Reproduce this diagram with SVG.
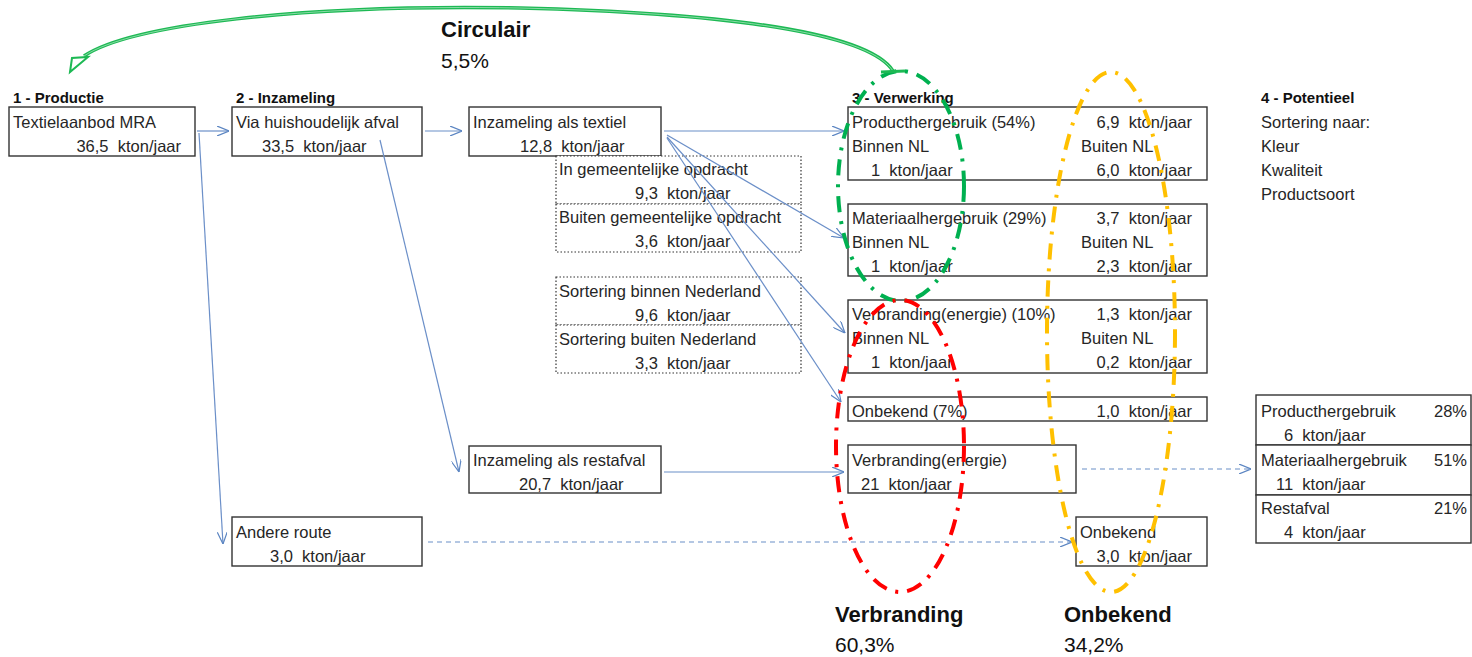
<svg xmlns="http://www.w3.org/2000/svg" width="1472" height="657" viewBox="0 0 1472 657">
<defs>
<marker id="arr" viewBox="0 0 12 10" refX="12" refY="5" markerWidth="12" markerHeight="10" markerUnits="userSpaceOnUse" orient="auto">
<path d="M0,0 L12,5 L0,10" fill="none" stroke="#5b85c2" stroke-width="1.2"/>
</marker>
<style>
text{font-family:"Liberation Sans",Arial,sans-serif;font-size:16.5px;fill:#262626;white-space:pre}
.h{font-size:15px;font-weight:bold;fill:#111}
.big{font-size:22px;font-weight:bold;fill:#111}
.pct{font-size:21px;fill:#111}
.e{text-anchor:end}
.box{fill:#fff;stroke:#333;stroke-width:1.4}
.dot{fill:#fff;stroke:#333;stroke-width:1.2;stroke-dasharray:1.5 2}
.c{fill:none;stroke:#6b8fc8;stroke-width:1.2;marker-end:url(#arr)}
.d{fill:none;stroke:#6b8fc8;stroke-width:1.2;stroke-dasharray:5 4;marker-end:url(#arr)}
.ell{fill:none;stroke-width:4;stroke-dasharray:16 9 3 9}
</style>
</defs>

<g id="headers">
<text class="h" x="13" y="103">1 - Productie</text>
<text class="h" x="236" y="103">2 - Inzameling</text>
<text class="h" x="852" y="103">3 - Verwerking</text>
<text class="h" x="1261" y="103">4 - Potentieel</text>
<text x="1261" y="128">Sortering naar:</text>
<text x="1261" y="152">Kleur</text>
<text x="1261" y="176">Kwaliteit</text>
<text x="1261" y="200">Productsoort</text>
</g>

<g id="n-textielaanbod">
<rect class="box" x="9" y="107" width="186" height="49"/>
<text x="13" y="128">Textielaanbod MRA</text>
<text x="181" y="152" class="e">36,5  kton/jaar</text>
</g>
<g id="n-huishoudelijk">
<rect class="box" x="232" y="107" width="190" height="49"/>
<text x="236" y="128">Via huishoudelijk afval</text>
<text x="262" y="152">33,5  kton/jaar</text>
</g>
<g id="n-andere">
<rect class="box" x="232" y="517" width="190" height="49"/>
<text x="236" y="538">Andere route</text>
<text x="270" y="562">3,0  kton/jaar</text>
</g>
<g id="n-textiel">
<rect class="box" x="469" y="107" width="192" height="49"/>
<text x="473" y="128">Inzameling als textiel</text>
<text x="520" y="152">12,8  kton/jaar</text>
</g>
<g id="n-restafval">
<rect class="box" x="469" y="446" width="192" height="47"/>
<text x="473" y="466">Inzameling als restafval</text>
<text x="519" y="490">20,7  kton/jaar</text>
</g>
<g id="n-opdracht">
<rect class="dot" x="556" y="156" width="245" height="48"/>
<rect class="dot" x="556" y="204" width="245" height="48"/>
<text x="559" y="175">In gemeentelijke opdracht</text>
<text x="635" y="199">9,3  kton/jaar</text>
<text x="559" y="223">Buiten gemeentelijke opdracht</text>
<text x="635" y="247">3,6  kton/jaar</text>
</g>
<g id="n-sortering">
<rect class="dot" x="556" y="277" width="245" height="48"/>
<rect class="dot" x="556" y="325" width="245" height="48"/>
<text x="559" y="297">Sortering binnen Nederland</text>
<text x="635" y="321">9,6  kton/jaar</text>
<text x="559" y="345">Sortering buiten Nederland</text>
<text x="635" y="369">3,3  kton/jaar</text>
</g>

<g id="n-producthergebruik">
<rect class="box" x="848" y="107" width="359" height="73"/>
<text x="852" y="128">Producthergebruik (54%)</text>
<text x="1192" y="128" class="e">6,9  kton/jaar</text>
<text x="852" y="152">Binnen NL</text>
<text x="1081" y="152">Buiten NL</text>
<text x="871" y="176">1  kton/jaar</text>
<text x="1192" y="176" class="e">6,0  kton/jaar</text>
</g>
<g id="n-materiaal">
<rect class="box" x="848" y="204" width="359" height="72"/>
<text x="852" y="224">Materiaalhergebruik (29%)</text>
<text x="1192" y="224" class="e">3,7  kton/jaar</text>
<text x="852" y="248">Binnen NL</text>
<text x="1081" y="248">Buiten NL</text>
<text x="871" y="272">1  kton/jaar</text>
<text x="1192" y="272" class="e">2,3  kton/jaar</text>
</g>
<g id="n-verbranding10">
<rect class="box" x="848" y="300" width="359" height="73"/>
<text x="852" y="320">Verbranding(energie) (10%)</text>
<text x="1192" y="320" class="e">1,3  kton/jaar</text>
<text x="852" y="344">Binnen NL</text>
<text x="1081" y="344">Buiten NL</text>
<text x="871" y="368">1  kton/jaar</text>
<text x="1192" y="368" class="e">0,2  kton/jaar</text>
</g>
<g id="n-onbekend7">
<rect class="box" x="848" y="397" width="359" height="24"/>
<text x="852" y="417">Onbekend (7%)</text>
<text x="1192" y="417" class="e">1,0  kton/jaar</text>
</g>
<g id="n-verbranding">
<rect class="box" x="848" y="445" width="228" height="48"/>
<text x="852" y="466">Verbranding(energie)</text>
<text x="861" y="490">21  kton/jaar</text>
</g>
<g id="n-onbekend">
<rect class="box" x="1076" y="517" width="131" height="49"/>
<text x="1080" y="538">Onbekend</text>
<text x="1192" y="562" class="e">3,0  kton/jaar</text>
</g>
<g id="n-potentieel">
<rect class="box" x="1256" y="395" width="215" height="50"/>
<rect class="box" x="1256" y="445" width="215" height="50"/>
<rect class="box" x="1256" y="495" width="215" height="48"/>
<text x="1261" y="417">Producthergebruik</text>
<text x="1467" y="417" class="e">28%</text>
<text x="1284" y="441">6  kton/jaar</text>
<text x="1261" y="466">Materiaalhergebruik</text>
<text x="1467" y="466" class="e">51%</text>
<text x="1276" y="490">11  kton/jaar</text>
<text x="1261" y="514">Restafval</text>
<text x="1467" y="514" class="e">21%</text>
<text x="1284" y="538">4  kton/jaar</text>
</g>

<g id="connectors">
<line class="c" x1="197" y1="131" x2="229" y2="131"/>
<line class="c" x1="199" y1="133" x2="223" y2="544"/>
<line class="c" x1="425" y1="131" x2="462" y2="131"/>
<line class="c" x1="380" y1="140" x2="459" y2="472"/>
<line class="c" x1="664" y1="131" x2="844" y2="131"/>
<line class="c" x1="667" y1="135" x2="844" y2="238"/>
<line class="c" x1="667" y1="137" x2="845" y2="333"/>
<line class="c" x1="667" y1="138" x2="841" y2="402"/>
<line class="c" x1="664" y1="472" x2="844" y2="472"/>
<line class="d" x1="1082" y1="469" x2="1251" y2="469"/>
<line class="d" x1="428" y1="542" x2="1072" y2="542"/>
</g>

<g id="ellipses">
<ellipse class="ell" cx="901" cy="186" rx="63" ry="115" stroke="#00B050"/>
<ellipse class="ell" cx="900" cy="446" rx="64" ry="146" stroke="#FF0000"/>
<ellipse class="ell" cx="1111" cy="332" rx="64" ry="260" stroke="#FFC000"/>
</g>

<g id="circulair-arrow">
<path d="M893,71 C872,38 760,14 520,8 C300,4 130,25 84,56" fill="none" stroke="#1db954" stroke-width="3.5"/>
<path d="M893,71 C872,38 760,14 520,8 C300,4 130,25 84,56" fill="none" stroke="#fff" stroke-width="0.8" opacity="0.6"/>
<polygon points="70,72 72,58 88,57" fill="#fff" stroke="#1db954" stroke-width="2"/>
<line x1="881" y1="72" x2="905" y2="71" stroke="#1db954" stroke-width="3"/>
</g>

<g id="labels">
<text class="big" x="441" y="37">Circulair</text>
<text class="pct" x="441" y="68">5,5%</text>
<text class="big" x="835" y="622">Verbranding</text>
<text class="pct" x="835" y="652">60,3%</text>
<text class="big" x="1064" y="622">Onbekend</text>
<text class="pct" x="1064" y="652">34,2%</text>
</g>
</svg>
